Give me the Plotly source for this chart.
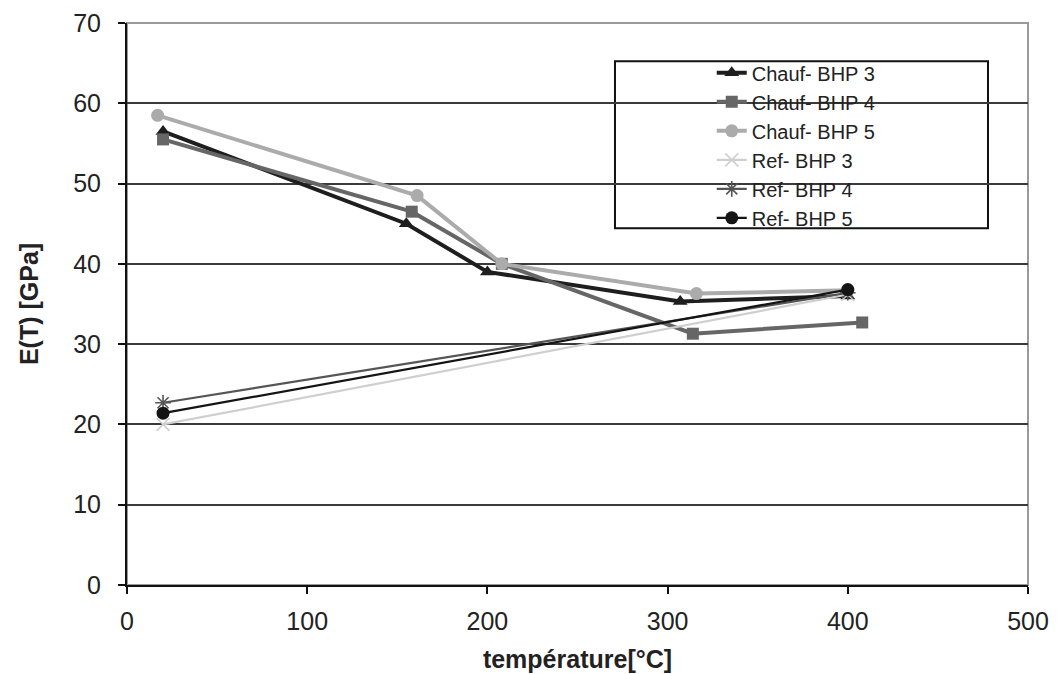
import plotly.graph_objects as go

# Temperature (°C) and modulus E(T) (GPa) for each test series
chauf3_t = [20, 155, 200, 307, 400]
chauf3_e = [56.5, 45.0, 39.0, 35.3, 36.0]

chauf4_t = [20, 158, 208, 314, 408]
chauf4_e = [55.5, 46.5, 40.0, 31.3, 32.7]

chauf5_t = [17, 161, 208, 316, 400]
chauf5_e = [58.5, 48.5, 40.0, 36.3, 36.7]

ref3_t = [20, 400]
ref3_e = [20.0, 36.2]

ref4_t = [20, 400]
ref4_e = [22.7, 36.4]

ref5_t = [20, 400]
ref5_e = [21.4, 36.8]

x_ticks = [0, 100, 200, 300, 400, 500]
y_ticks = [0, 10, 20, 30, 40, 50, 60, 70]

FONT = "Liberation Sans, Arial, sans-serif"

series = [
    ("Chauf- BHP 3", chauf3_t, chauf3_e, "#1e1e1e", 4.0, dict(symbol="triangle-up", size=13, color="#1e1e1e")),
    ("Chauf- BHP 4", chauf4_t, chauf4_e, "#666666", 4.0, dict(symbol="square", size=12, color="#666666")),
    ("Chauf- BHP 5", chauf5_t, chauf5_e, "#ababab", 4.0, dict(symbol="circle", size=13, color="#ababab")),
    ("Ref- BHP 3", ref3_t, ref3_e, "#cfcfcf", 2.2, dict(symbol="x-thin-open", size=13, color="#cfcfcf",
                                                          line=dict(color="#cfcfcf", width=1.6))),
    ("Ref- BHP 4", ref4_t, ref4_e, "#555555", 2.2, dict(symbol="asterisk-open", size=13, color="#555555",
                                                          line=dict(color="#555555", width=1.6))),
    ("Ref- BHP 5", ref5_t, ref5_e, "#141414", 2.2, dict(symbol="circle", size=13, color="#141414")),
]

fig = go.Figure()
for name, xs, ys, col, lw, mk in series:
    fig.add_trace(go.Scatter(
        x=xs, y=ys, name=name, mode="lines+markers",
        line=dict(color=col, width=lw), marker=mk,
    ))

# plot-area frame (top and right, light gray) and legend box
fig.add_shape(type="rect", xref="paper", yref="paper", x0=0, x1=1, y0=0, y1=1,
              line=dict(color="#9a9a9a", width=2), layer="below")
fig.add_shape(type="rect", xref="paper", yref="paper",
              x0=0.5416, x1=0.9556, y0=0.635, y1=0.932,
              line=dict(color="#111111", width=2), fillcolor="white", layer="between")

fig.update_layout(
    width=1057, height=674,
    margin=dict(l=127, r=29, t=23, b=89),
    paper_bgcolor="white", plot_bgcolor="white",
    font=dict(family=FONT, color="#222222"),
    showlegend=True,
    legend=dict(
        x=0.649, y=0.946, xanchor="left", yanchor="top",
        bgcolor="rgba(0,0,0,0)", borderwidth=0,
        font=dict(family=FONT, size=20, color="#222222"),
        tracegroupgap=0, itemwidth=30,
    ),
)

fig.update_xaxes(
    range=[0, 500], tickvals=x_ticks, ticktext=[str(v) for v in x_ticks],
    showgrid=False, zeroline=False, automargin=False,
    showline=True, linecolor="#111111", linewidth=2,
    ticks="outside", ticklen=7, tickcolor="#111111", tickwidth=1.5,
    ticklabelstandoff=6,
    tickfont=dict(family=FONT, size=25, color="#222222"),
    title=dict(text="<b>température[°C]</b>", font=dict(family=FONT, size=25, color="#222222"), standoff=16),
)
fig.update_yaxes(
    range=[0, 70], tickvals=y_ticks, ticktext=[str(v) for v in y_ticks],
    showgrid=True, gridcolor="#3a3a3a", gridwidth=1.8, zeroline=False, automargin=False,
    showline=True, linecolor="#111111", linewidth=2,
    ticks="outside", ticklen=7, tickcolor="#111111", tickwidth=1.5,
    ticklabelstandoff=12,
    tickfont=dict(family=FONT, size=25, color="#222222"),
    title=dict(text="<b>E(T) [GPa]</b>", font=dict(family=FONT, size=25, color="#222222"), standoff=27),
)

fig.write_html("out.html")
